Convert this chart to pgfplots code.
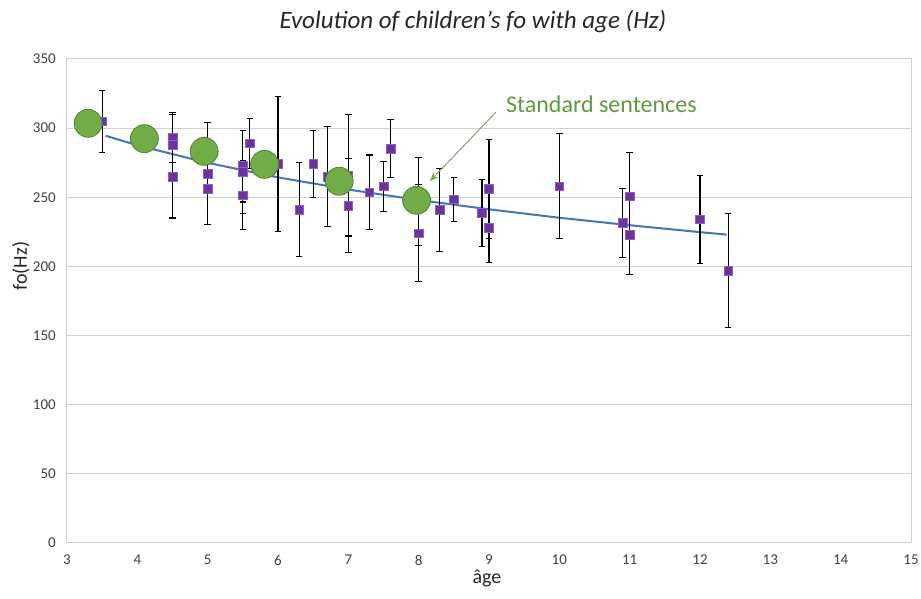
\documentclass[border=0pt]{standalone}
\usepackage{pgfplots}
\pgfplotsset{compat=1.18}
\usepackage{fontspec}
\setmainfont{Carlito}
\usetikzlibrary{arrows.meta}
\definecolor{sqpurple}{HTML}{7030A0}
\definecolor{sqedge}{HTML}{8064C8}
\definecolor{cgreen}{HTML}{70AD47}
\definecolor{cgreenedge}{HTML}{548235}
\definecolor{tblue}{HTML}{4472C4}
\definecolor{gridgray}{HTML}{D0D0D0}
\definecolor{anngreen}{HTML}{5F9A3C}
\definecolor{arrowgray}{HTML}{8E9C72}
\begin{document}
\begin{tikzpicture}
\begin{axis}[
  scale only axis,
  width=844pt, height=484pt,
  xmin=3, xmax=15, ymin=0, ymax=350,
  xtick={3,4,...,15},
  ytick={0,50,...,350},
  ymajorgrids,
  grid style={gridgray, line width=1pt},
  axis line style={gridgray, line width=1pt},
  major tick length=0pt,
  /pgf/number format/assume math mode=true,
  tick label style={font=\fontsize{15}{18}\selectfont, text=black!75},
  yticklabel style={inner sep=0pt, xshift=-11pt},
  xticklabel style={inner sep=0pt, yshift=-12pt},
  title={Evolution of children’s fo with age (Hz)},
  title style={font=\fontsize{25}{30}\selectfont\itshape, at={(axis description cs:0.481,1)}, anchor=center, yshift=31pt, text=black!85},
  xlabel={âge},
  xlabel style={font=\fontsize{20}{24}\selectfont, at={(axis description cs:0.4976,0)}, anchor=center, yshift=-35pt, text=black!85},
  ylabel={fo(Hz)},
  ylabel style={font=\fontsize{20}{24}\selectfont, at={(axis description cs:-0.0545,0.572)}, anchor=center, text=black!85},
  clip=false,
]
\coordinate (O) at (rel axis cs:0,0);
% trend line
\addplot[tblue, line width=2pt, no marks] coordinates {
(3.55,294.5) (4,287.6) (5,274.9) (6,264.4) (7,255.6) (8,248.0) (9,241.3) (10,235.2) (11,229.8) (12,224.8) (12.38,223.0)
};
% measured points with error bars
\addplot[only marks, mark=square*, mark size=4.3pt,
  mark options={fill=sqpurple, draw=sqedge, line width=0.6pt},
  error bars/.cd, y dir=both, y explicit,
  error bar style={black, line width=1.1pt},
  error mark options={rotate=90, mark size=3.3pt, black, line width=1.1pt}]
table[x=x, y=y, y error=e] {
x y e
3.5 305 22.5
4.5 293 18
4.5 288 22
4.5 265 30
5 267 37
5 256 26
5.5 272.6 26
5.5 268.3 30
5.5 251.4 25
5.6 289 18
6 274 49
6.3 241 34
6.5 274 24
6.7 265 36
7 266 44
7 244 34
7.3 253.6 27
7.5 258 18
7.6 285 21
8 224 35
8 247 32
8.3 241 30
8.5 248.5 16
8.9 238.6 24
9 256 36
9 228 25
10 258 38
10.9 231.4 25
11 250.7 31.5
11 223 29
12 234 32
12.4 197 41
};
% standard sentences
\addplot[only marks, mark=*, mark size=14pt,
  mark options={fill=cgreen, draw=cgreenedge, line width=0.8pt}]
coordinates {
(3.30,303.5) (4.10,292.4) (4.95,283.2) (5.81,273.8) (6.87,261.6) (7.97,247.8)
};
\draw[arrowgray, line width=1pt, -{Stealth[length=9pt, width=7pt, color=cgreen, fill=cgreen]}] (axis cs:9.10,311.6) -- (axis cs:8.16,261.7);
\node[anchor=west, inner sep=0pt, text=anngreen, font=\fontsize{24}{29}\selectfont] at (axis cs:9.24,317.4) {Standard sentences};
\end{axis}
\path (O) ++(-67pt,-56pt) rectangle ++(921pt,599pt);
\end{tikzpicture}
\end{document}
